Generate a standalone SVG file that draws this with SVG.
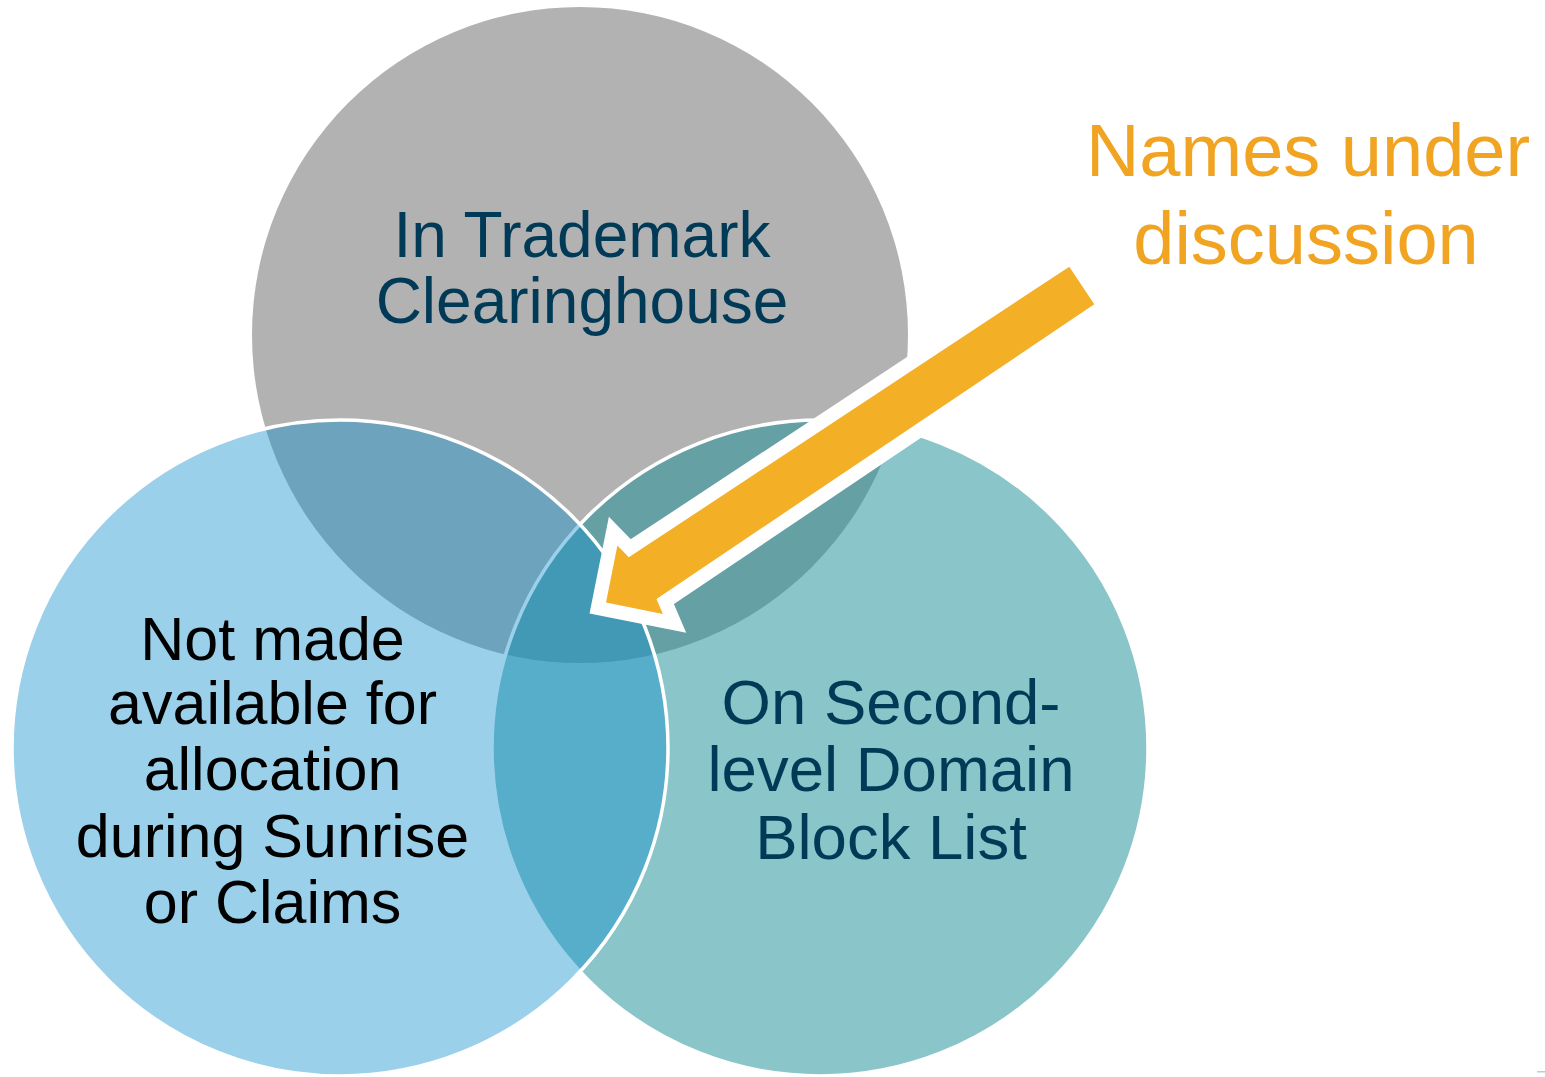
<svg xmlns="http://www.w3.org/2000/svg" width="1545" height="1077" viewBox="0 0 1545 1077">
<defs>
<style>
.lbl{font-family:"Liberation Sans",Arial,sans-serif;text-anchor:middle}
.navy{fill:#003A57}
.ring{stroke:#FFFFFF;stroke-width:3.5}
</style>
</defs>
<rect width="1545" height="1077" fill="#FFFFFF"/>
<g id="node-tmch">
<circle cx="580" cy="335" r="328" fill="#B2B2B2"/>
<text class="lbl navy" font-size="64"><tspan x="582" y="257">In Trademark</tspan><tspan x="582" y="323">Clearinghouse</tspan></text>
</g>
<g id="node-sldbl">
<circle class="ring" cx="820" cy="748" r="328" fill="rgb(30,144,153)" fill-opacity="0.52"/>
<text class="lbl navy" font-size="63.5"><tspan x="891" y="724">On Second-</tspan><tspan x="891" y="791">level Domain</tspan><tspan x="891" y="859">Block List</tspan></text>
</g>
<g id="node-sunrise">
<circle class="ring" cx="340" cy="748" r="328" fill="rgb(17,143,205)" fill-opacity="0.42"/>
<text class="lbl" font-size="61" fill="#000000"><tspan x="272.5" y="660">Not made</tspan><tspan x="272.5" y="724">available for</tspan><tspan x="272.5" y="790">allocation</tspan><tspan x="272.5" y="857">during Sunrise</tspan><tspan x="272.5" y="923">or Claims</tspan></text>
</g>
<g id="connectors">
<polygon points="606,602.5 617.4,545.6 628.8,557.3 1069.3,266.7 1094.3,304.3 656.5,598.9 662.9,613.9" fill="#F3B027" stroke="#FFFFFF" stroke-width="28" stroke-linejoin="miter" stroke-miterlimit="4" paint-order="stroke"/>
</g>
<g id="label-names">
<text class="lbl" font-size="74" fill="#F1A421"><tspan x="1308" y="176">Names under</tspan><tspan x="1306" y="264">discussion</tspan></text>
</g>
<rect x="1537" y="1071" width="8" height="1.5" fill="#C8C8C8"/>
</svg>
